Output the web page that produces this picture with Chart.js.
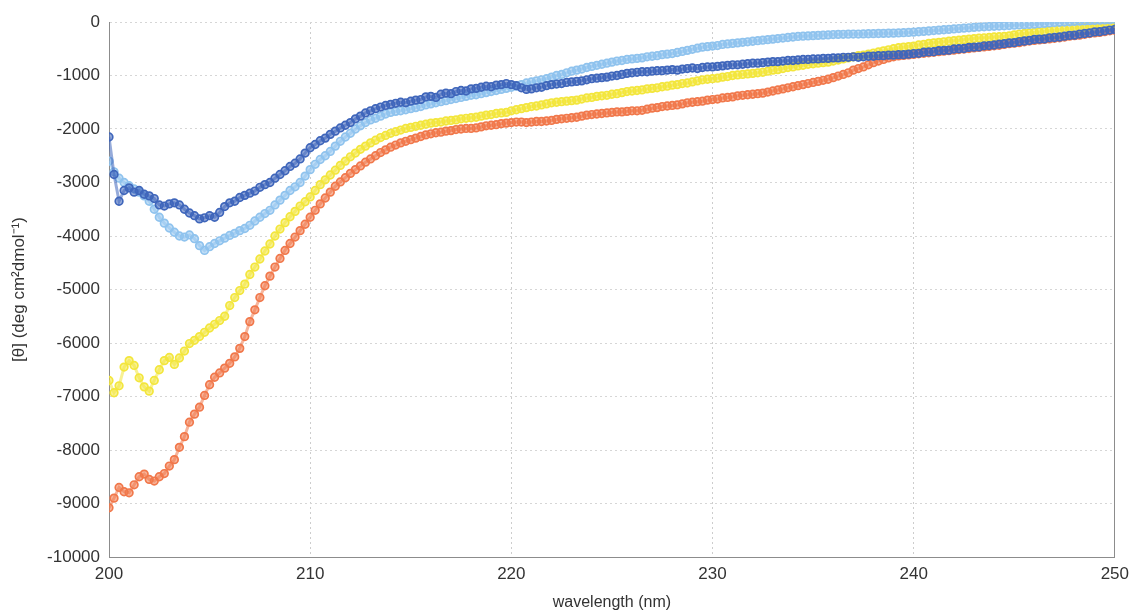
<!DOCTYPE html>
<html><head><meta charset="utf-8">
<script src="https://cdn.jsdelivr.net/npm/chart.js@4.4.1/dist/chart.umd.min.js"></script>
<style>html,body{margin:0;padding:0;background:#fff;}#c{display:block;}</style>
</head><body>
<canvas id="c" width="1136" height="612"></canvas>
<script>
// sampling grid of the spectra (nm)
const START_NM = 200, STEP_NM = 0.25;

// [θ] values, one per 0.25 nm from 200 to 250 nm
const darkBlue = [
-2150,-2850,-3350,-3150,-3100,-3180,-3150,-3220,-3250,-3300,-3420,-3440,-3400,-3380,-3420,-3500,-3570,-3620,-3680,-3660,
-3620,-3650,-3560,-3450,-3380,-3350,-3280,-3240,-3200,-3160,-3090,-3040,-3000,-2920,-2850,-2780,-2700,-2640,-2560,-2450,
-2350,-2290,-2220,-2170,-2100,-2040,-1980,-1930,-1880,-1810,-1760,-1700,-1660,-1620,-1590,-1560,-1540,-1520,-1500,-1510,
-1480,-1460,-1450,-1400,-1390,-1410,-1350,-1330,-1340,-1300,-1280,-1290,-1250,-1240,-1220,-1200,-1210,-1180,-1170,-1150,
-1170,-1190,-1230,-1260,-1250,-1230,-1220,-1190,-1170,-1160,-1150,-1130,-1120,-1110,-1100,-1080,-1060,-1050,-1040,-1030,
-1010,-1000,-980,-960,-950,-940,-930,-930,-920,-910,-910,-900,-890,-900,-880,-870,-860,-870,-850,-840,
-840,-830,-820,-810,-800,-800,-790,-780,-770,-770,-760,-750,-740,-740,-730,-720,-720,-710,-700,-700,
-690,-690,-680,-680,-670,-670,-660,-660,-650,-660,-650,-640,-640,-630,-630,-620,-620,-610,-610,-600,
-590,-585,-565,-560,-555,-535,-530,-525,-505,-500,-495,-475,-470,-465,-445,-440,-430,-415,-405,-390,
-385,-365,-355,-345,-325,-320,-315,-295,-290,-280,-265,-250,-245,-225,-215,-205,-185,-180,-165,-150,
-140];

const lightBlue = [
-2600,-2800,-2920,-3000,-3060,-3120,-3180,-3250,-3350,-3500,-3650,-3760,-3850,-3930,-4000,-4020,-3980,-4050,-4180,-4270,
-4200,-4140,-4090,-4040,-3990,-3950,-3900,-3860,-3800,-3720,-3650,-3580,-3520,-3420,-3330,-3240,-3150,-3080,-3000,-2880,
-2760,-2660,-2570,-2500,-2420,-2320,-2230,-2150,-2080,-2000,-1940,-1880,-1830,-1800,-1760,-1720,-1690,-1670,-1660,-1640,
-1620,-1600,-1580,-1550,-1530,-1510,-1490,-1470,-1450,-1430,-1410,-1390,-1370,-1360,-1340,-1320,-1300,-1280,-1260,-1240,
-1220,-1200,-1170,-1140,-1120,-1100,-1080,-1060,-1030,-1000,-980,-950,-920,-900,-880,-850,-830,-810,-790,-770,
-750,-730,-720,-700,-690,-680,-670,-650,-640,-630,-610,-600,-590,-570,-550,-530,-510,-490,-470,-460,
-450,-440,-420,-410,-400,-390,-380,-370,-360,-350,-340,-330,-320,-310,-300,-290,-280,-270,-265,-260,
-255,-250,-245,-240,-235,-232,-230,-228,-225,-225,-222,-220,-218,-215,-212,-210,-208,-205,-200,-195,
-190,-182,-175,-168,-160,-152,-145,-138,-130,-122,-115,-108,-100,-95,-90,-85,-80,-75,-70,-65,
-60,-55,-50,-45,-40,-32,-25,-18,-10,-5,0,5,10,15,20,25,30,35,40,45,
50];

const yellow = [
-6700,-6930,-6800,-6450,-6330,-6420,-6650,-6820,-6900,-6700,-6500,-6330,-6270,-6400,-6280,-6150,-6010,-5950,-5880,-5800,
-5720,-5650,-5580,-5500,-5300,-5150,-5020,-4900,-4720,-4580,-4430,-4280,-4150,-4000,-3870,-3750,-3640,-3540,-3440,-3360,
-3270,-3150,-3040,-2950,-2860,-2770,-2680,-2600,-2520,-2450,-2380,-2320,-2260,-2210,-2160,-2120,-2080,-2050,-2020,-1990,
-1970,-1950,-1930,-1910,-1890,-1880,-1870,-1850,-1840,-1830,-1810,-1800,-1790,-1780,-1760,-1740,-1730,-1710,-1700,-1690,
-1660,-1640,-1620,-1600,-1580,-1570,-1550,-1530,-1510,-1500,-1490,-1480,-1470,-1460,-1440,-1420,-1410,-1390,-1380,-1370,
-1350,-1340,-1320,-1300,-1290,-1280,-1270,-1250,-1240,-1230,-1210,-1200,-1180,-1170,-1150,-1140,-1120,-1100,-1080,-1070,
-1060,-1050,-1030,-1020,-1000,-990,-980,-970,-960,-950,-940,-920,-900,-890,-870,-850,-840,-820,-810,-790,
-780,-770,-760,-750,-730,-710,-690,-670,-650,-630,-620,-600,-580,-560,-540,-520,-500,-480,-470,-460,
-450,-430,-420,-400,-390,-380,-370,-360,-350,-340,-330,-320,-310,-300,-295,-290,-280,-275,-270,-260,
-240,-225,-215,-205,-195,-185,-175,-165,-155,-145,-135,-125,-115,-105,-95,-80,-70,-55,-45,-30,
-20];

const orange = [
-9080,-8900,-8700,-8780,-8800,-8650,-8500,-8450,-8550,-8580,-8500,-8440,-8300,-8180,-7950,-7750,-7480,-7330,-7200,-6980,
-6780,-6640,-6560,-6470,-6380,-6260,-6100,-5880,-5600,-5380,-5150,-4930,-4750,-4580,-4420,-4270,-4140,-4020,-3900,-3780,
-3650,-3520,-3400,-3290,-3180,-3070,-2990,-2910,-2830,-2760,-2690,-2620,-2560,-2500,-2440,-2390,-2340,-2300,-2260,-2230,
-2200,-2170,-2140,-2110,-2090,-2070,-2060,-2040,-2030,-2010,-2000,-1990,-1990,-1980,-1960,-1940,-1930,-1920,-1900,-1890,
-1880,-1870,-1870,-1880,-1870,-1860,-1860,-1850,-1840,-1820,-1810,-1800,-1790,-1780,-1760,-1740,-1730,-1720,-1710,-1700,
-1690,-1680,-1680,-1670,-1660,-1660,-1650,-1630,-1610,-1600,-1580,-1570,-1560,-1550,-1530,-1510,-1500,-1490,-1480,-1460,
-1450,-1440,-1420,-1410,-1400,-1380,-1370,-1360,-1350,-1340,-1330,-1310,-1290,-1270,-1250,-1230,-1210,-1190,-1170,-1150,
-1130,-1110,-1090,-1070,-1040,-1010,-980,-950,-900,-870,-840,-800,-760,-730,-700,-670,-650,-635,-625,-615,
-605,-595,-585,-575,-565,-555,-545,-535,-525,-515,-505,-495,-485,-475,-465,-455,-445,-435,-420,-405,
-395,-385,-370,-355,-345,-335,-325,-315,-305,-295,-280,-265,-255,-245,-230,-215,-205,-195,-180,-165,
-155];

const xTickValues = [200, 210, 220, 230, 240, 250];
const yTickValues = [0, -1000, -2000, -3000, -4000, -5000, -6000, -7000, -8000, -9000, -10000];
const xTitle = 'wavelength (nm)';
const yTitle = '[θ] (deg cm²dmol⁻¹)';

const wavelengths = darkBlue.map((_, i) => START_NM + i * STEP_NM);
const toPts = arr => arr.map((v, i) => ({x: wavelengths[i], y: v}));

function ds(label, arr, color, fill) {
  return {
    label, data: toPts(arr),
    showLine: true, borderColor: fill, borderWidth: 3,
    pointRadius: 3.8, pointBorderWidth: 1.7,
    pointBorderColor: color, pointBackgroundColor: fill,
    pointStyle: 'circle'
  };
}

const FONT = 'Liberation Sans, Arial, Helvetica, sans-serif';

new Chart(document.getElementById('c'), {
  type: 'scatter',
  data: {
    datasets: [
      ds('dark blue', darkBlue, '#3f66bb', 'rgba(63,102,187,0.55)'),
      ds('light blue', lightBlue, '#8fc3ee', 'rgba(143,195,238,0.55)'),
      ds('yellow', yellow, '#f3e63c', 'rgba(243,230,60,0.55)'),
      ds('orange', orange, '#f1784b', 'rgba(241,120,75,0.55)')
    ]
  },
  options: {
    responsive: false, animation: false, devicePixelRatio: 1,
    layout: {padding: {top: 22, right: 19, left: 0, bottom: 0}},
    plugins: {legend: {display: false}, tooltip: {enabled: false}},
    scales: {
      x: {
        type: 'linear', min: 200, max: 250,
        afterBuildTicks: s => { s.ticks = xTickValues.map(v => ({value: v})); },
        afterFit: s => { s.height = 55; },
        ticks: {color: '#333', font: {family: FONT, size: 17}, padding: 7, maxRotation: 0, callback: v => String(v)},
        grid: {color: '#cdcdcd', drawTicks: false, lineWidth: 1},
        border: {display: true, color: '#8c8c8c', width: 1, dash: [2, 3]},
        title: {display: true, text: xTitle, color: '#333', font: {family: FONT, size: 16}, padding: {top: 0, bottom: 0}}
      },
      y: {
        type: 'linear', min: -10000, max: 0, position: 'left',
        afterBuildTicks: s => { s.ticks = yTickValues.map(v => ({value: v})); },
        afterFit: s => { s.width = 109; },
        ticks: {color: '#333', font: {family: FONT, size: 17}, padding: 9, callback: v => String(v)},
        grid: {color: '#d6d6d6', drawTicks: false, lineWidth: 1},
        border: {display: true, color: '#8c8c8c', width: 1, dash: [2, 3]},
        title: {display: true, text: yTitle, color: '#333', font: {family: FONT, size: 17}, padding: {top: 9, bottom: 0}}
      },
      y2: {
        type: 'linear', position: 'right', min: -10000, max: 0,
        afterFit: s => { s.width = 0; },
        ticks: {display: false},
        grid: {drawOnChartArea: false, drawTicks: false},
        border: {display: true, color: '#8c8c8c', width: 1}
      }
    }
  }
});
</script>
</body></html>
